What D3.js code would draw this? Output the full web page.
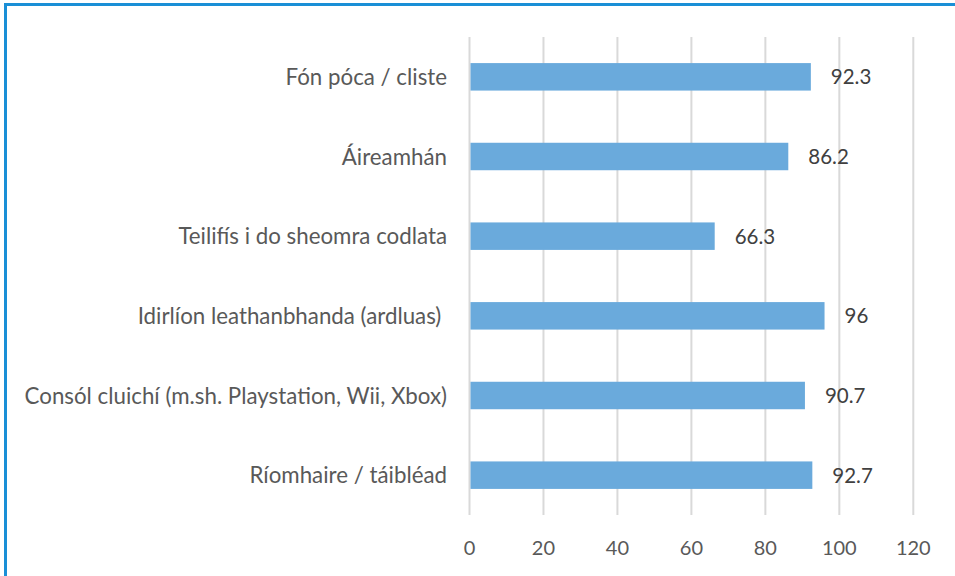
<!DOCTYPE html>
<html><head><meta charset="utf-8">
<script src="https://cdn.jsdelivr.net/npm/d3@7"></script>
<style>body{margin:0;background:#fff}svg{display:block}</style>
</head><body>
<script>
const categories = ["Fón póca / cliste","Áireamhán","Teilifís i do sheomra codlata","Idirlíon leathanbhanda (ardluas) ","Consól cluichí (m.sh. Playstation, Wii, Xbox)","Ríomhaire / táibléad"];
const values = [92.3, 86.2, 66.3, 96, 90.7, 92.7];
const valueLabels = ["92.3","86.2","66.3","96","90.7","92.7"];
const xTicks = [0,20,40,60,80,100,120];

const W=955,H=576;
const svg=d3.select("body").append("svg").attr("width",W).attr("height",H);
svg.append("rect").attr("x",0).attr("y",0).attr("width",W).attr("height",H).attr("fill","#fff");
// frame
svg.append("path").attr("d",`M5.5,${H+5} L5.5,4.5 L${W+5},4.5`).attr("fill","none").attr("stroke","#1a8fd6").attr("stroke-width",3);

const x=d3.scaleLinear().domain([0,120]).range([469.5,913.3]);
const y=d3.scaleBand().domain(categories).range([37,515]).paddingInner(0.655).paddingOuter(0.3275);
const font="Lato, 'Open Sans', sans-serif";

svg.append("g").selectAll("line").data(xTicks).join("line")
  .attr("x1",d=>x(d)).attr("x2",d=>x(d)).attr("y1",37).attr("y2",515)
  .attr("stroke","#d9d9d9").attr("stroke-width",2);

svg.append("g").selectAll("rect").data(values).join("rect")
  .attr("x",x(0)+1).attr("y",(d,i)=>y(categories[i])).attr("width",d=>x(d)-x(0)-1).attr("height",y.bandwidth())
  .attr("fill","#6aaadc");

svg.append("g").selectAll("text").data(values).join("text")
  .attr("x",d=>x(d)+20).attr("y",(d,i)=>y(categories[i])+y.bandwidth()/2).attr("dy","0.36em")
  .attr("font-family",font).attr("font-size",20.5).attr("fill","#404040").text((d,i)=>valueLabels[i]);

svg.append("g").selectAll("text").data(categories).join("text")
  .attr("x",447).attr("y",d=>y(d)+y.bandwidth()/2).attr("dy","0.36em").attr("text-anchor","end")
  .style("white-space","pre").attr("xml:space","preserve")
  .attr("font-family",font).attr("font-size",22.3).attr("fill","#595959").text(d=>d);

svg.append("g").selectAll("text").data(xTicks).join("text")
  .attr("x",d=>x(d)).attr("y",548).attr("dy","0.36em").attr("text-anchor","middle")
  .attr("font-family",font).attr("font-size",20).attr("fill","#595959").text(d=>d);
</script>
</body></html>
